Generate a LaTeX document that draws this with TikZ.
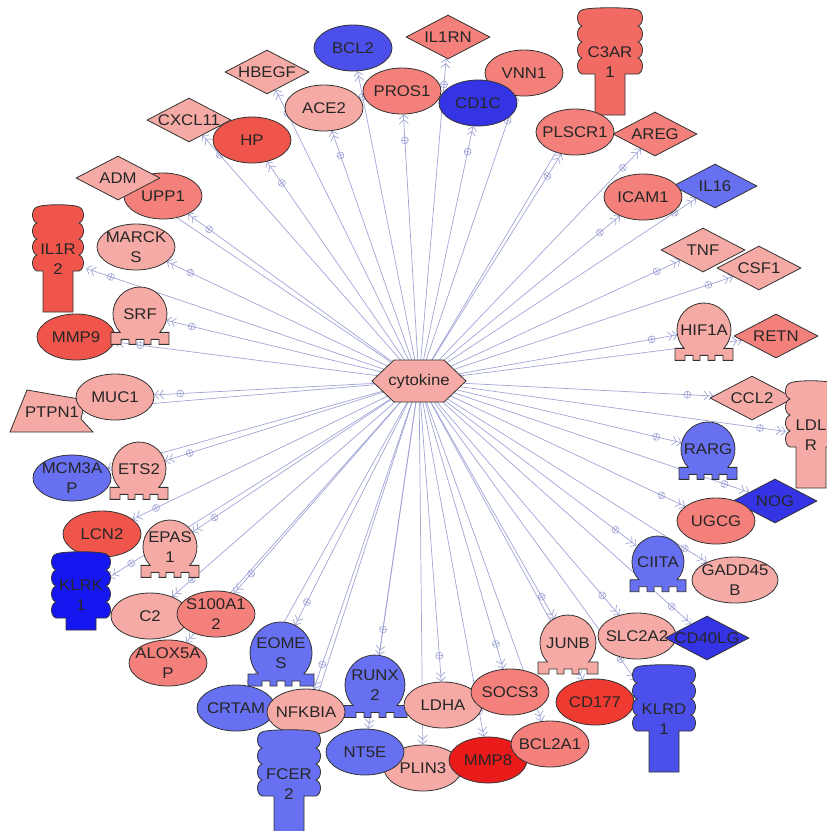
\documentclass[tikz,border=0pt]{standalone}
\usepackage{fontspec}
\setmainfont{Liberation Sans}[FakeStretch=1.08]
\usetikzlibrary{shapes.geometric,arrows.meta,decorations.markings,backgrounds}

\definecolor{pinkA}{HTML}{F5AAA5}
\definecolor{pinkB}{HTML}{F3807A}
\definecolor{pinkC}{HTML}{F26A64}
\definecolor{redA}{HTML}{F0554B}
\definecolor{redB}{HTML}{EE3A30}
\definecolor{redC}{HTML}{E81A1A}
\definecolor{blueA}{HTML}{6670F0}
\definecolor{blueB}{HTML}{4B50EA}
\definecolor{blueC}{HTML}{3434E4}
\definecolor{blueD}{HTML}{1616F0}
\definecolor{edgec}{HTML}{A0A4D6}

% transcription regulator: round head on a notched foot
\newcommand{\tfbody}[3]{%
  \begin{scope}[shift={#1}, x=1pt, y=1pt]
    \pgfmathsetmacro{\tfx}{0.733*#3}
    \pgfmathsetmacro{\tft}{-0.68*#3}
    \pgfmathsetmacro{\tfa}{#3+2}
    \pgfmathsetmacro{\tfb}{\tft-12}
    \pgfmathsetmacro{\tfd}{\tfb+5}
    \filldraw[fill=#2, draw=black!80, line width=0.8pt]
      (\tfx,\tft) arc[start angle=-42.8, end angle=222.8, radius=#3]
      -- (-\tfa,\tft) -- (-\tfa,\tfb)
      -- (-19,\tfb) -- (-19,\tfd) -- (-11,\tfd) -- (-11,\tfb)
      -- (-4,\tfb) -- (-4,\tfd) -- (4,\tfd) -- (4,\tfb)
      -- (11,\tfb) -- (11,\tfd) -- (19,\tfd) -- (19,\tfb)
      -- (\tfa,\tfb) -- (\tfa,\tft) -- cycle;
  \end{scope}}

% receptor: wavy head on a stalk (optional: stalk end)
\newcommand{\rcbody}[4][-53]{%
  \begin{scope}[shift={#2}, x=1pt, y=1pt]
    \pgfmathsetmacro{\rin}{#4-4}
    \pgfmathsetmacro{\rout}{#4+2}
    \filldraw[fill=#3, draw=black!80, line width=0.8pt]
      (-\rin,52) .. controls (-\rin+6,55) and (\rin-6,55) .. (\rin,52)
      \foreach \q in {0,...,3} { .. controls (\rout,{50-16*\q}) and (\rout,{38-16*\q}) .. (\rin,{36-16*\q}) }
      -- (15,-12) -- (15,#1) -- (-15,#1) -- (-15,-12) -- (-\rin,-12)
      \foreach \q in {0,...,3} { .. controls (-\rout,{-10+16*\q}) and (-\rout,{2+16*\q}) .. (-\rin,{4+16*\q}) }
      -- cycle;
  \end{scope}}

\begin{document}
\begin{tikzpicture}[x=1pt, y=-1pt, font=\fontsize{15.5}{20}\selectfont,
    lbl/.style={inner sep=0pt, align=center, text=black!85},
    gene/.style={ellipse, draw=black!80, line width=0.8pt, minimum width=78pt,
      minimum height=46pt, inner sep=0pt, label={[lbl]center:#1}},
    ligand/.style={diamond, draw=black!80, line width=0.8pt, minimum width=84pt,
      minimum height=44pt, inner sep=0pt, label={[lbl]center:#1}},
    tfac/.style={circle, minimum size=54pt, inner sep=0pt, label={[lbl]center:#1}},
    rcpt/.style={rectangle, minimum width=56pt, minimum height=105pt, inner sep=0pt,
      label={[lbl]center:#1}},
    flow/.style={draw=edgec, line width=0.7pt,
      -{Straight Barb[length=4pt,width=9pt] Straight Barb[length=4pt,width=9pt]},
      postaction={decorate, decoration={markings, mark=at position -26pt with
        {\draw[edgec, line width=0.6pt] (0,0) circle[radius=3.5pt]
          (-3.5pt,0) -- (3.5pt,0) (0,-3.5pt) -- (0,3.5pt);}}}}]
\useasboundingbox (0,0) rectangle (827,831);

% top
\node[ligand=HBEGF, fill=pinkA] (hbegf) at (267,72) {};
\node[gene=BCL2, fill=blueB] (bcl2) at (353,48) {};
\node[ligand=IL1RN, fill=pinkB] (il1rn) at (448,37) {};
\rcbody{(610,62)}{pinkC}{32}
\node[rcpt={C3AR\\1}] (c3ar1) at (610,62) {};
\node[gene=PROS1, fill=pinkB] (pros1) at (402,91) {};
\node[gene=VNN1, fill=pinkB] (vnn1) at (524,73) {};
\node[gene=CD1C, fill=blueC] (cd1c) at (478,103) {};
\node[gene=ACE2, fill=pinkA] (ace2) at (324,108) {};
\node[ligand=CXCL11, fill=pinkA] (cxcl11) at (189,120) {};
\node[gene=HP, fill=redA] (hp) at (252,140) {};
\node[ligand=AREG, fill=pinkB] (areg) at (655,134) {};
\node[gene=PLSCR1, fill=pinkB] (plscr1) at (575,132) {};

% left
\node[gene=UPP1, fill=pinkB] (upp1) at (163,196) {};
\node[ligand=ADM, fill=pinkA] (adm) at (118,178) {};
\rcbody{(58,259)}{redA}{25}
\node[rcpt={IL1R\\2}] (il1r2) at (58,259) {};
\node[gene={MARCK\\S}, fill=pinkA] (marcks) at (136,247) {};
\node[gene=MMP9, fill=redA] (mmp9) at (76,337) {};
\tfbody{(140,314)}{pinkA}{27}
\node[tfac=SRF] (srf) at (140,314) {};
\filldraw[fill=pinkA, draw=black!80, line width=0.8pt]
  (10,432) -- (27,390) -- (85,400) -- (81,419) -- (93,432) -- cycle;
\node[lbl] (ptpn1) at (52,412) {PTPN1};
\node[gene=MUC1, fill=pinkA] (muc1) at (115,397) {};
\node[gene={MCM3A\\P}, fill=blueA] (mcm3ap) at (72,478) {};
\tfbody{(139,469)}{pinkA}{27}
\node[tfac=ETS2] (ets2) at (139,469) {};
\node[gene=LCN2, fill=redA] (lcn2) at (102,534) {};
\tfbody{(170,547)}{pinkA}{27}
\node[tfac={EPAS\\1}] (epas1) at (170,547) {};
\rcbody[-24]{(81,606)}{blueD}{29}
\node[rcpt={KLRK\\1}, minimum height=76pt] (klrk1) at (81,595) {};

% right
\node[ligand=IL16, fill=blueA] (il16) at (715,186) {};
\node[gene=ICAM1, fill=pinkB] (icam1) at (643,197) {};
\node[ligand=TNF, fill=pinkA] (tnf) at (703,250) {};
\node[ligand=CSF1, fill=pinkA] (csf1) at (759,268) {};
\tfbody{(704,330)}{pinkA}{27}
\node[tfac=HIF1A] (hif1a) at (704,330) {};
\node[ligand=RETN, fill=pinkB] (retn) at (776,336) {};
\node[ligand=CCL2, fill=pinkA] (ccl2) at (752,398) {};
\rcbody{(811,435)}{pinkA}{25}
\node[rcpt={LDL\\R}, minimum width=50pt] (ldlr) at (811,435) {};
\tfbody{(708,449)}{blueA}{27}
\node[tfac=RARG] (rarg) at (708,449) {};
\node[ligand=NOG, fill=blueC] (nog) at (775,501) {};
\node[gene=UGCG, fill=pinkB] (ugcg) at (716,521) {};
\tfbody{(658,562)}{blueA}{26}
\node[tfac=CIITA] (ciita) at (658,562) {};
\node[gene={GADD45\\B}, fill=pinkA, minimum width=86pt] (gadd45b) at (735,580) {};

% bottom
\node[gene=C2, fill=pinkA] (c2) at (150,616) {};
\node[gene={S100A1\\2}, fill=pinkB] (s100a12) at (216,614) {};
\node[gene={ALOX5A\\P}, fill=pinkB] (alox5ap) at (168,663) {};
\tfbody{(281,653)}{blueA}{31}
\node[tfac={EOME\\S}, minimum size=62pt] (eomes) at (281,653) {};
\tfbody{(375,685)}{blueA}{30}
\node[tfac={RUNX\\2}, minimum size=60pt] (runx2) at (375,685) {};
\tfbody{(568,643)}{pinkA}{28}
\node[tfac=JUNB] (junb) at (568,643) {};
\node[gene=SLC2A2, fill=pinkA] (slc2a2) at (637,636) {};
\node[ligand=CD40LG, fill=blueC] (cd40lg) at (707,638) {};
\node[gene=CRTAM, fill=blueA] (crtam) at (236,708) {};
\node[gene=NFKBIA, fill=pinkA] (nfkbia) at (306,712) {};
\rcbody{(289,784)}{blueA}{31}
\node[rcpt={FCER\\2}] (fcer2) at (289,784) {};
\node[gene=LDHA, fill=pinkA] (ldha) at (443,705) {};
\node[gene=SOCS3, fill=pinkB] (socs3) at (510,692) {};
\node[gene=CD177, fill=redB] (cd177) at (595,702) {};
\rcbody{(664,719)}{blueB}{31}
\node[rcpt={KLRD\\1}] (klrd1) at (664,719) {};
\node[gene=PLIN3, fill=pinkA] (plin3) at (423,768) {};
\node[gene=NT5E, fill=blueA] (nt5e) at (365,752) {};
\node[gene=MMP8, fill=redC] (mmp8) at (488,760) {};
\node[gene=BCL2A1, fill=pinkB] (bcl2a1) at (550,744) {};

% hub
\filldraw[fill=pinkA, draw=black!80, line width=0.8pt]
  (372,381) -- (394,360) -- (444,360) -- (466,381) -- (444,402) -- (394,402) -- cycle;
\node[lbl] (cyto) at (419,381) {cytokine};

\begin{pgfonlayer}{background}
  \foreach \g in {hbegf, bcl2, il1rn, c3ar1, pros1, vnn1, cd1c, ace2, cxcl11, hp,
      areg, plscr1, adm, upp1, il1r2, marcks, mmp9, srf, ptpn1, muc1, mcm3ap, ets2,
      lcn2, epas1, klrk1, il16, icam1, tnf, csf1, hif1a, retn, ccl2, ldlr, rarg, nog,
      ugcg, ciita, gadd45b, c2, s100a12, alox5ap, eomes, runx2, junb, slc2a2, cd40lg,
      crtam, nfkbia, fcer2, ldha, socs3, cd177, klrd1, plin3, nt5e, mmp8, bcl2a1}
    \draw[flow] (cyto.center) -- (\g);
\end{pgfonlayer}
\end{tikzpicture}
\end{document}
